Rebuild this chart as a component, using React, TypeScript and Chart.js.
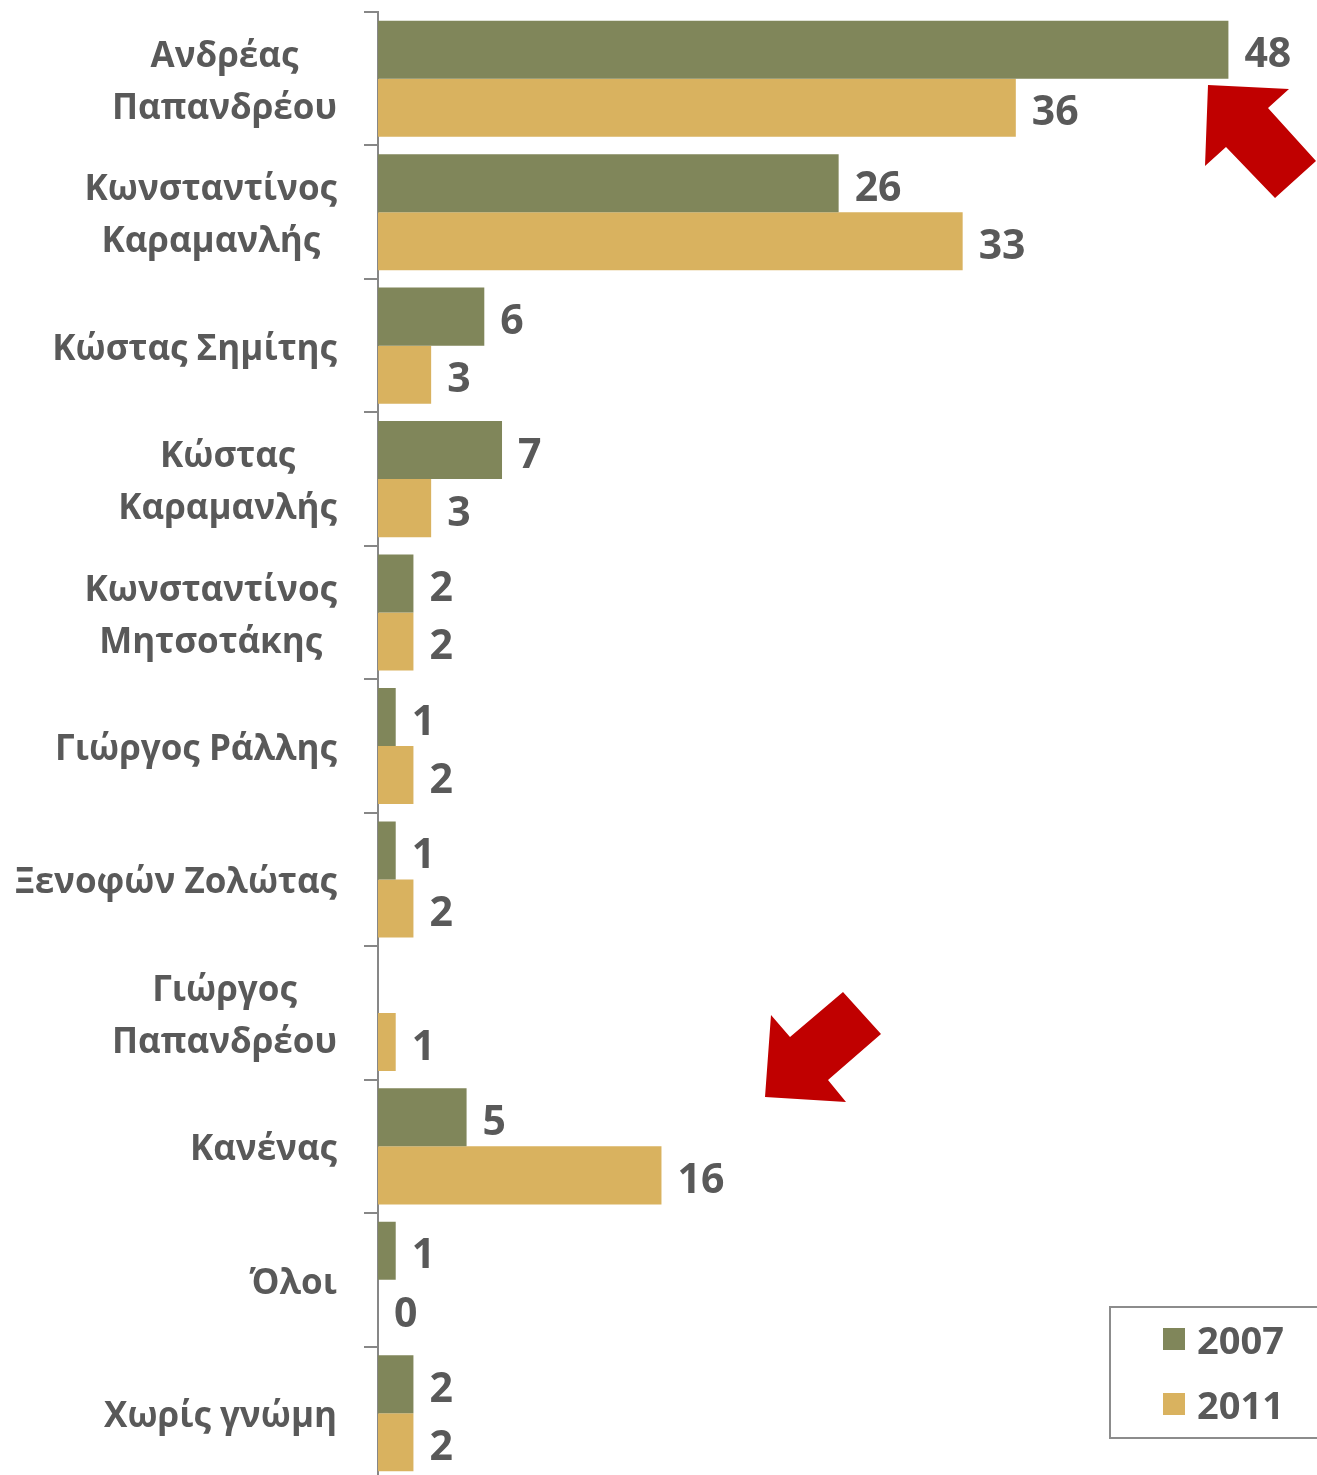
import React, { useEffect, useRef } from "react";
import { Chart, registerables } from "chart.js";

Chart.register(...registerables);

const categories: string[][] = [
  ["Ανδρέας", "Παπανδρέου"],
  ["Κωνσταντίνος", "Καραμανλής"],
  ["Κώστας Σημίτης"],
  ["Κώστας", "Καραμανλής"],
  ["Κωνσταντίνος", "Μητσοτάκης"],
  ["Γιώργος Ράλλης"],
  ["Ξενοφών Ζολώτας"],
  ["Γιώργος", "Παπανδρέου"],
  ["Κανένας"],
  ["Όλοι"],
  ["Χωρίς γνώμη"],
];

const seriesNames = ["2007", "2011"];
const values2007: (number | null)[] = [48, 26, 6, 7, 2, 1, 1, null, 5, 1, 2];
const values2011: (number | null)[] = [36, 33, 3, 3, 2, 2, 2, 1, 16, 0, 2];

const COLOR_2007 = "#80865A";
const COLOR_2011 = "#D9B25F";
const TEXT = "#595959";
const AXIS = "#878787";
const FONT = '"Open Sans", "Noto Sans", sans-serif';

const W = 1317;
const H = 1492;

const decorPlugin = {
  id: "decor",
  afterDatasetsDraw(chart: any) {
    const ctx = chart.ctx as CanvasRenderingContext2D;
    ctx.save();
    // value labels
    ctx.font = `bold 41px ${FONT}`;
    ctx.fillStyle = TEXT;
    ctx.textAlign = "left";
    ctx.textBaseline = "middle";
    chart.data.datasets.forEach((ds: any, di: number) => {
      const meta = chart.getDatasetMeta(di);
      meta.data.forEach((el: any, i: number) => {
        const v = ds.data[i];
        if (v === null || v === undefined) return;
        ctx.fillText(String(v), el.x + 16, el.y + 6);
      });
    });
    ctx.restore();
  },
  afterDraw(chart: any) {
    const ctx = chart.ctx as CanvasRenderingContext2D;
    const yScale = chart.scales.y;
    ctx.save();
    // category labels: block right aligned, lines centered
    ctx.font = `bold 35px ${FONT}`;
    ctx.fillStyle = TEXT;
    ctx.textAlign = "center";
    ctx.textBaseline = "middle";
    const right = 337;
    const lh = 52;
    categories.forEach((lines, i) => {
      const y = yScale.getPixelForValue(i);
      const bw = Math.max(...lines.map((l) => ctx.measureText(l).width));
      const cx = right - bw / 2;
      lines.forEach((l, k) => {
        ctx.fillText(l, cx, y + (k - (lines.length - 1) / 2) * lh + 4);
      });
    });

    // legend
    ctx.strokeStyle = "#8c8c8c";
    ctx.lineWidth = 2;
    ctx.strokeRect(1110, 1307, 230, 131);
    const colors = [COLOR_2007, COLOR_2011];
    ctx.font = `bold 38px ${FONT}`;
    ctx.textAlign = "left";
    seriesNames.forEach((n, k) => {
      const yy = 1328 + k * 65;
      ctx.fillStyle = colors[k];
      ctx.fillRect(1163, yy, 22, 22);
      ctx.fillStyle = TEXT;
      ctx.fillText(n, 1197, yy + 15);
    });

    // red arrows (decoration)
    ctx.fillStyle = "#C00000";
    const arrows = [
      [[1208, 85], [1289, 89], [1268, 108], [1316, 161], [1275, 198], [1226, 147], [1205, 166]],
      [[765, 1097], [846, 1102], [828, 1080], [881, 1034], [843, 992], [790, 1037], [771, 1015]],
    ];
    arrows.forEach((pts) => {
      ctx.beginPath();
      pts.forEach(([x, y], j) => (j === 0 ? ctx.moveTo(x, y) : ctx.lineTo(x, y)));
      ctx.closePath();
      ctx.fill();
    });
    ctx.restore();
  },
};

export default function App() {
  const ref = useRef<HTMLCanvasElement | null>(null);
  useEffect(() => {
    let chart: Chart | null = null;
    let cancelled = false;
    const make = () => {
      if (cancelled || !ref.current) return;
      chart = new Chart(ref.current, {
        type: "bar",
        data: {
          labels: categories,
          datasets: [
            {
              label: seriesNames[0],
              data: values2007,
              backgroundColor: COLOR_2007,
              categoryPercentage: 0.87,
              barPercentage: 1.0,
            },
            {
              label: seriesNames[1],
              data: values2011,
              backgroundColor: COLOR_2011,
              categoryPercentage: 0.87,
              barPercentage: 1.0,
            },
          ],
        },
        options: {
          indexAxis: "y",
          responsive: false,
          animation: false,
          layout: { padding: { top: 12, bottom: 12, left: 0, right: 0 } },
          plugins: { legend: { display: false }, tooltip: { enabled: false } },
          scales: {
            x: { display: false, min: 0, max: 53 },
            y: {
              type: "category",
              offset: true,
              grid: {
                offset: true,
                drawOnChartArea: false,
                drawTicks: true,
                tickLength: 14,
                color: AXIS,
                lineWidth: 2,
              },
              border: { display: true, color: AXIS, width: 2 },
              ticks: { display: false },
              afterFit: (s: any) => {
                s.width = 378;
              },
            },
          },
        } as any,
        plugins: [decorPlugin],
      });
    };
    const fonts: any = (document as any).fonts;
    if (fonts && fonts.load) {
      Promise.all([fonts.load(`bold 35px "Open Sans"`, "Αβγ")]).then(make, make);
    } else make();
    return () => {
      cancelled = true;
      if (chart) chart.destroy();
    };
  }, []);
  return (
    <div
      style={{
        position: "fixed",
        left: 0,
        top: 0,
        width: W,
        height: 1475,
        overflow: "hidden",
        background: "#fff",
      }}
    >
      <canvas ref={ref} width={W} height={H} style={{ display: "block", width: W, height: H }} />
    </div>
  );
}
